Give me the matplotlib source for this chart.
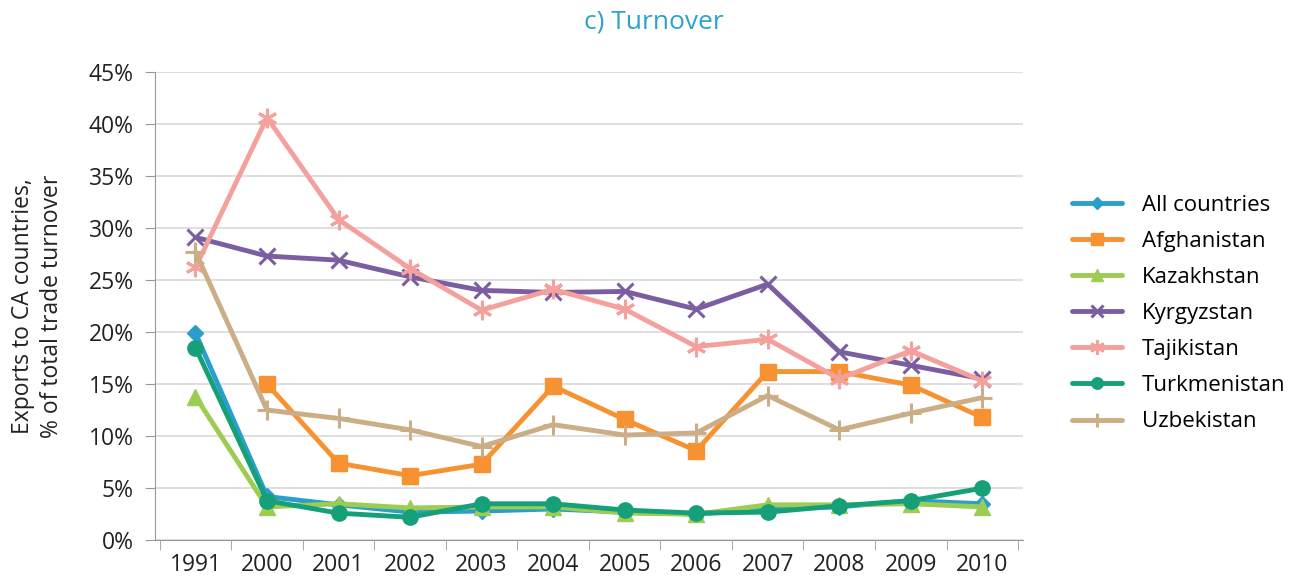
import numpy as np
import matplotlib.pyplot as plt
from matplotlib.ticker import FuncFormatter, FixedLocator

plt.rcParams['font.family'] = ['Open Sans', 'DejaVu Sans']

years = ['1991', '2000', '2001', '2002', '2003', '2004', '2005',
         '2006', '2007', '2008', '2009', '2010']

all_countries = [19.9, 4.2, 3.4, 2.7, 2.8, 3.0, 2.7, 2.5, 3.0, 3.2, 3.8, 3.5]
afghanistan = [np.nan, 15.0, 7.4, 6.2, 7.3, 14.8, 11.6, 8.6, 16.2, 16.2, 14.9, 11.8]
kazakhstan = [13.8, 3.2, 3.5, 3.1, 3.2, 3.2, 2.6, 2.5, 3.4, 3.4, 3.5, 3.2]
kyrgyzstan = [29.1, 27.3, 26.9, 25.3, 24.0, 23.8, 23.9, 22.2, 24.6, 18.1, 16.8, 15.5]
tajikistan = [26.2, 40.6, 30.8, 26.1, 22.1, 24.1, 22.2, 18.6, 19.3, 15.5, 18.2, 15.3]
turkmenistan = [18.5, 3.8, 2.6, 2.2, 3.5, 3.5, 2.9, 2.6, 2.7, 3.3, 3.8, 5.0]
uzbekistan = [27.7, 12.5, 11.7, 10.6, 9.0, 11.1, 10.1, 10.3, 13.9, 10.6, 12.2, 13.7]

series = [
    ('All countries', all_countries, '#2a9fcb', 'D', 8),
    ('Afghanistan', afghanistan, '#f79232', 's', 11),
    ('Kazakhstan', kazakhstan, '#9dcc52', '^', 11),
    ('Kyrgyzstan', kyrgyzstan, '#7b5ea1', 'x', 12),
    ('Tajikistan', tajikistan, '#f4a19e', (6, 2, 0), 14),
    ('Turkmenistan', turkmenistan, '#15a07a', 'o', 11),
    ('Uzbekistan', uzbekistan, '#cbae85', '+', 14),
]

fig = plt.figure(figsize=(13, 5.79), dpi=100)
ax = fig.add_axes([0.119, 0.067, 0.668, 0.809])

x = np.arange(len(years))
for name, vals, col, mk, ms in series:
    ax.plot(x, vals, color=col, lw=3.5, marker=mk, markersize=ms,
            markeredgewidth=2.2 if mk in ('x', '+', (6, 2, 0)) else 1,
            markeredgecolor=col, markerfacecolor=col, label=name,
            solid_joinstyle='round', solid_capstyle='round')

ax.set_xlim(-0.57, len(years) - 0.43)
ax.set_ylim(0, 45)
ax.set_yticks(np.arange(0, 46, 5))
ax.yaxis.set_major_formatter(FuncFormatter(lambda v, p: f'{int(v)}%'))
ax.set_xticks(x)
ax.set_xticklabels(years)
ax.xaxis.set_minor_locator(FixedLocator(np.arange(-0.5, len(years), 1.0)))
ax.tick_params(axis='x', which='major', length=0, labelsize=16.5, pad=9, colors='#222222')
ax.tick_params(axis='x', which='minor', length=7, color='#999999', direction='out')
ax.tick_params(axis='y', length=7, color='#999999', labelsize=16.5, labelcolor='#222222', pad=8)

ax.grid(axis='y', color='#d9d9d9', lw=1.2)
ax.set_axisbelow(True)
for s in ['top', 'right']:
    ax.spines[s].set_visible(False)
ax.spines['left'].set_color('#999999')
ax.spines['bottom'].set_color('#999999')

ax.set_ylabel('Exports to CA countries,\n% of total trade turnover', fontsize=16.5,
              color='#222222', labelpad=18, linespacing=1.25)
fig.text(0.503, 0.962, 'c) Turnover', ha='center', va='center', fontsize=19, color='#2aa3ce')

ax.legend(loc='center left', bbox_to_anchor=(1.033, 0.484), frameon=False, fontsize=16,
          handlelength=2.25, handletextpad=0.9, labelspacing=0.68, markerscale=0.75)

fig.savefig('out.png', dpi=100)
